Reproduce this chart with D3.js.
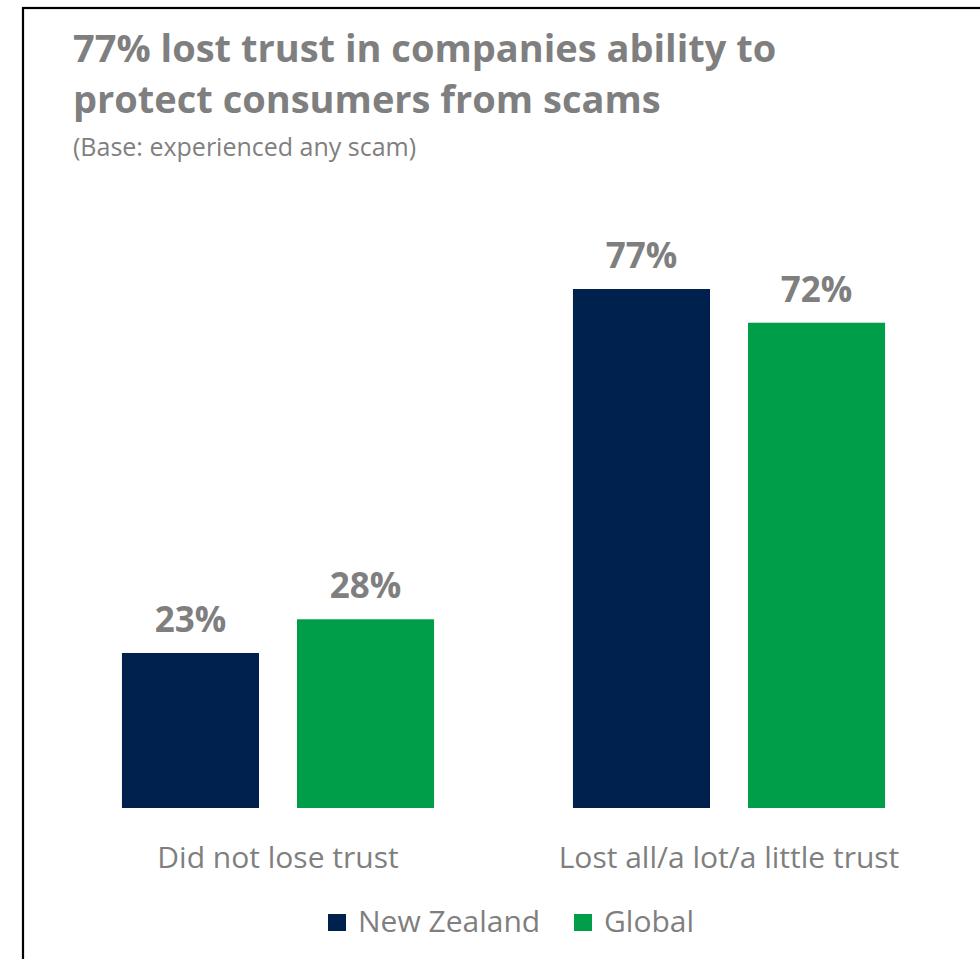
<!DOCTYPE html>
<html>
<head>
<meta charset="utf-8">
<script src="https://cdn.jsdelivr.net/npm/d3@7"></script>
<style>
  html, body { margin: 0; padding: 0; background: #fff; }
  svg { display: block; font-family: "Open Sans", "Noto Sans", sans-serif; }
</style>
</head>
<body>
<svg id="chart" width="980" height="959"></svg>
<script>
// Survey answers: share of scam victims who lost trust in companies
const categories = ["Did not lose trust", "Lost all/a lot/a little trust"];
const seriesNames = ["New Zealand", "Global"];
const newZealand = [23, 77];
const global = [28, 72];
const seriesColors = ["#00204E", "#009E49"];
const titleLines = ["77% lost trust in companies ability to", "protect consumers from scams"];
const subtitle = "(Base: experienced any scam)";

const values = [newZealand, global];
const gray = "#7F7F7F";

const svg = d3.select("#chart");

// frame around the slide
svg.append("rect")
  .attr("x", 23).attr("y", 8)
  .attr("width", 1000).attr("height", 1000)
  .attr("fill", "none").attr("stroke", "#000").attr("stroke-width", 2.2);

// title block
const title = svg.append("text")
  .attr("fill", gray).attr("font-weight", 700).attr("font-size", 38);
titleLines.forEach((t, i) => {
  title.append("tspan").attr("x", 73).attr("y", 62 + i * 51).text(t);
});
svg.append("text")
  .attr("x", 73).attr("y", 156)
  .attr("fill", gray).attr("font-size", 25)
  .text(subtitle);

// scales
const baseline = 808;
const x0 = d3.scaleBand()
  .domain(categories)
  .range([52.5, 954.5])
  .paddingInner(0.308)
  .paddingOuter(0.154);

const x1 = d3.scaleBand()
  .domain(seriesNames)
  .range([0, x0.bandwidth()])
  .paddingInner(0.217)
  .paddingOuter(0);

const y = d3.scaleLinear().domain([0, 100]).range([baseline, baseline - 674]);

// bars and value labels
const groups = svg.append("g").selectAll("g")
  .data(categories)
  .join("g")
  .attr("transform", d => `translate(${x0(d)},0)`);

groups.each(function (cat, ci) {
  const g = d3.select(this);
  const rows = seriesNames.map((s, si) => ({ s, si, v: values[si][ci] }));
  g.selectAll("rect")
    .data(rows)
    .join("rect")
    .attr("x", d => x1(d.s))
    .attr("y", d => y(d.v))
    .attr("width", x1.bandwidth())
    .attr("height", d => baseline - y(d.v))
    .attr("fill", d => seriesColors[d.si]);
  g.selectAll("text.val")
    .data(rows)
    .join("text")
    .attr("class", "val")
    .attr("x", d => x1(d.s) + x1.bandwidth() / 2)
    .attr("y", d => y(d.v) - 21)
    .attr("text-anchor", "middle")
    .attr("fill", gray)
    .attr("font-weight", 700)
    .attr("font-size", 35)
    .text(d => d.v + "%");
});

// category axis labels
svg.append("g").selectAll("text")
  .data(categories)
  .join("text")
  .attr("x", d => x0(d) + x0.bandwidth() / 2)
  .attr("y", 868)
  .attr("text-anchor", "middle")
  .attr("fill", gray)
  .attr("font-size", 30)
  .text(d => d);

// legend
const legendX = [328, 574];
const legend = svg.append("g").selectAll("g")
  .data(seriesNames)
  .join("g")
  .attr("transform", (d, i) => `translate(${legendX[i]},914)`);
legend.append("rect")
  .attr("width", 18).attr("height", 17)
  .attr("fill", (d, i) => seriesColors[i]);
legend.append("text")
  .attr("x", 30).attr("y", 18)
  .attr("fill", gray)
  .attr("font-size", 30)
  .text(d => d);
</script>
</body>
</html>
